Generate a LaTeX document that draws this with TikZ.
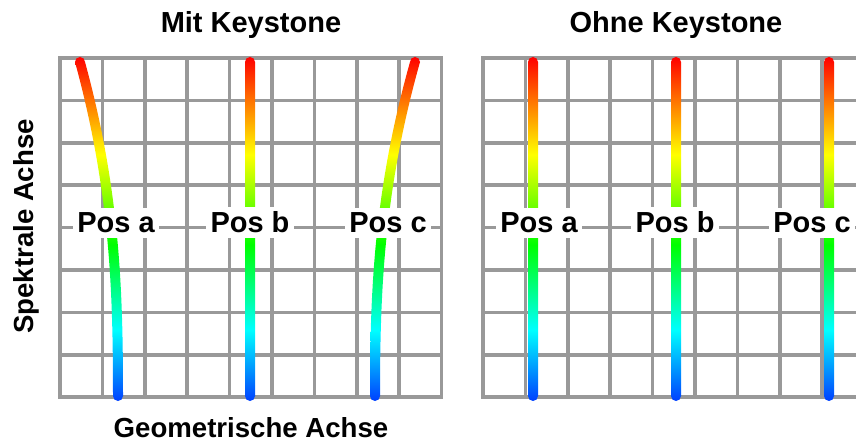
\documentclass[tikz,border=0pt]{standalone}
\usepackage{fontspec}
\setmainfont{Liberation Sans}
\pgfdeclareverticalshading{rainbow}{100bp}{rgb(0bp)=(0,0.25,1); rgb(25bp)=(0,0.25,1); rgb(35.3bp)=(0,1,1); rgb(47.7bp)=(0,1,0); rgb(60.8bp)=(1,1,0); rgb(68bp)=(1,0.5,0); rgb(75bp)=(1,0,0); rgb(100bp)=(1,0,0)}
\definecolor{gridgray}{RGB}{153,153,153}
\tikzset{
  gridline/.style={draw=gridgray, line width=3.6pt, line cap=rect},
  posstroke/.style={shading=rainbow},
  poslabel/.style={fill=white, inner xsep=4.5pt, inner ysep=5pt, anchor=base, font=\fontsize{29}{29}\selectfont\bfseries},
  titlelabel/.style={anchor=base, inner sep=0pt, font=\fontsize{29}{29}\selectfont\bfseries},
  axislabel/.style={anchor=base, inner sep=0pt, font=\fontsize{27.6}{27.6}\selectfont\bfseries}
}
\begin{document}
\begin{tikzpicture}[x=1pt,y=1pt]
\useasboundingbox (0,0) rectangle (856,442);
% grids
\foreach \g in {60,483}{
  \foreach \i in {0,...,9}{
    \draw[gridline] ({\g+\i*42.4},44.8) -- ({\g+\i*42.4},384);
  }
  \foreach \j in {0,...,8}{
    \draw[gridline] (\g,{44.8+\j*42.4}) -- ({\g+381.6},{44.8+\j*42.4});
  }
}
% straight strokes
\foreach \c in {250,533,676,829}{
  \shade[posstroke, rounded corners=5pt] ({\c-5},41) rectangle ({\c+5},385);
}
% curved strokes (keystone)
\shade[posstroke] (113,46) .. controls (113,152) and (110,252) .. (75,380)
  arc[start angle=180, end angle=0, radius=5]
  .. controls (120,252) and (123,152) .. (123,46)
  arc[start angle=0, end angle=-180, radius=5] -- cycle;
\shade[posstroke] (370,46) .. controls (370,152) and (374,252) .. (410,380)
  arc[start angle=180, end angle=0, radius=5]
  .. controls (384,252) and (380,152) .. (380,46)
  arc[start angle=0, end angle=-180, radius=5] -- cycle;
% labels
\node[poslabel] (la) at (116,209) {Pos a};
\node[poslabel] (lb) at (250,209) {Pos b};
\node[poslabel] (lc) at (388,209) {Pos c};
\node[poslabel] (ra) at (539,209) {Pos a};
\node[poslabel] (rb) at (675,209) {Pos b};
\node[poslabel] (rc) at (812,209) {Pos c};
% titles
\node[titlelabel] (t1) at (251,409) {Mit Keystone};
\node[titlelabel] (t2) at (676,409) {Ohne Keystone};
\node[axislabel] (xl) at (251,5) {Geometrische Achse};
\node[axislabel, rotate=90] (yl) at (33,215.5) {Spektrale Achse};
\end{tikzpicture}
\end{document}
